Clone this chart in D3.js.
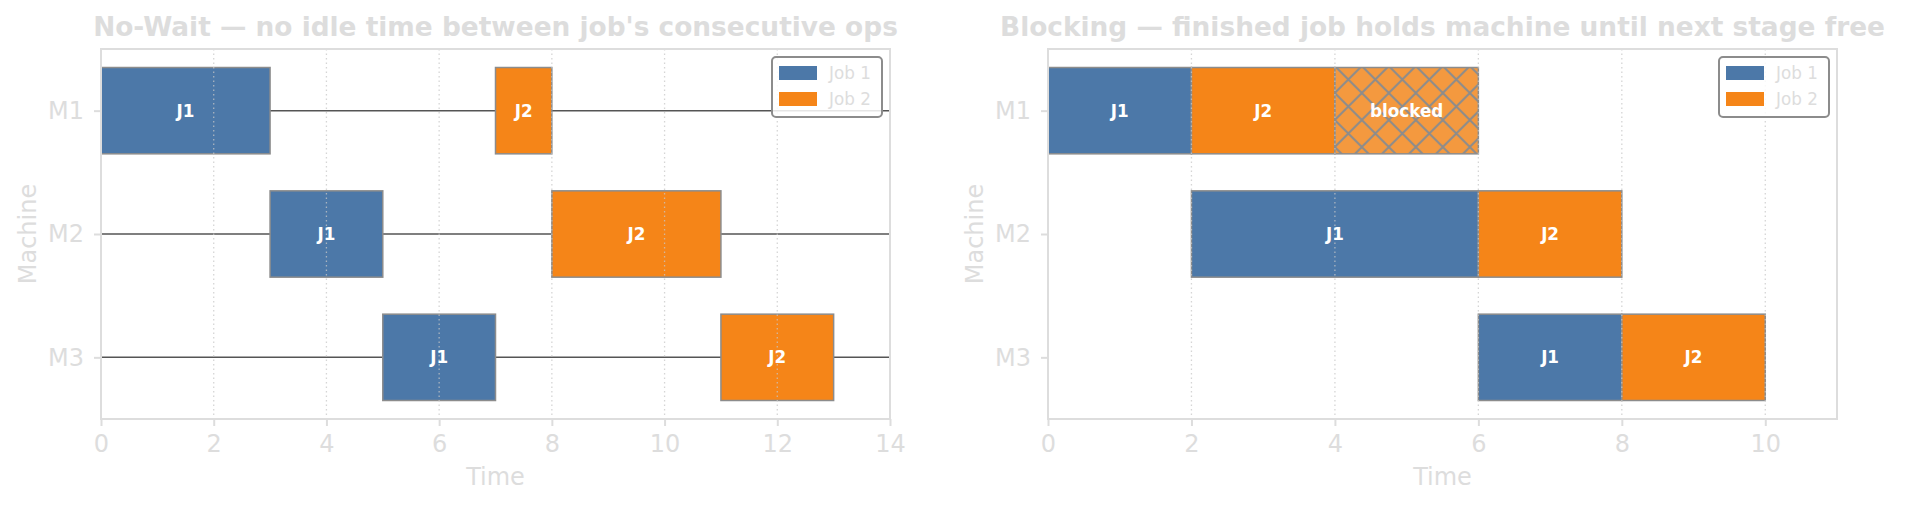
<!DOCTYPE html>
<html>
<head>
<meta charset="utf-8">
<script src="https://cdn.jsdelivr.net/npm/d3@7"></script>
<style>
  html, body { margin: 0; padding: 0; background: #fff; }
  svg { display: block; font-family: "DejaVu Sans", sans-serif; }
</style>
</head>
<body>
<div id="content"></div>
<script>
// data
const machines = ["M1", "M2", "M3"];
const jobNames = ["Job 1", "Job 2"];
const jobLabels = ["J1", "J2"];

// [job index, machine index, start, end]
const noWaitOps = [
  [0, 0, 0, 3], [0, 1, 3, 5], [0, 2, 5, 7],
  [1, 0, 7, 8], [1, 1, 8, 11], [1, 2, 11, 13]
];
const blockingOps = [
  [0, 0, 0, 2], [0, 1, 2, 6], [0, 2, 6, 8],
  [1, 0, 2, 4], [1, 1, 6, 8], [1, 2, 8, 10]
];
// [job index, machine index, start, end]
const blockedSpans = [[1, 0, 4, 6]];

const noWaitTicks = [0, 2, 4, 6, 8, 10, 12, 14];
const blockingTicks = [0, 2, 4, 6, 8, 10];

const W = 1905, H = 507;
const colors = ["#4c78a8", "#f58518"];
const light = "#dddddd";

const svg = d3.select("#content").append("svg")
  .attr("width", W).attr("height", H);

const defs = svg.append("defs");
const pat = defs.append("pattern")
  .attr("id", "xhatch")
  .attr("patternUnits", "userSpaceOnUse")
  .attr("width", 27).attr("height", 27)
  .attr("x", 1048 + 4 * 71.7).attr("y", 66);
pat.append("rect").attr("width", 27).attr("height", 27).attr("fill", "#f4993f");
pat.append("path")
  .attr("d", "M0,0L27,27M27,0L0,27M-1,26L1,28M26,-1L28,1")
  .attr("stroke", "#8c8c8c").attr("stroke-width", 2).attr("fill", "none");

function drawPanel(opts) {
  const {left, right, xmax, ticks, title, ops, blocked, hlines} = opts;
  const top = 49, bottom = 419;

  const x = d3.scaleLinear().domain([0, xmax]).range([left, right]);
  const y = d3.scaleLinear().domain([-0.5, 2.5]).range([top, bottom]);
  const barH = y(0.35) - y(0);

  const g = svg.append("g");

  // title
  g.append("text")
    .attr("x", (left + right) / 2).attr("y", 36)
    .attr("text-anchor", "middle")
    .attr("font-size", 26.4).attr("font-weight", "bold")
    .attr("fill", light)
    .text(title);

  // machine lines (no-wait only)
  if (hlines) {
    g.selectAll(".hl").data(machines).join("line")
      .attr("x1", left).attr("x2", right)
      .attr("y1", (d, i) => y(i)).attr("y2", (d, i) => y(i))
      .attr("stroke", "#555").attr("stroke-width", 1.5);
  }

  // bars
  g.selectAll(".bar").data(ops).join("rect")
    .attr("x", d => x(d[2]))
    .attr("y", d => y(d[1]) - barH)
    .attr("width", d => x(d[3]) - x(d[2]))
    .attr("height", 2 * barH)
    .attr("fill", d => colors[d[0]])
    .attr("stroke", "#8c8c8c").attr("stroke-width", 1.5);

  g.selectAll(".blk").data(blocked).join("rect")
    .attr("x", d => x(d[2]))
    .attr("y", d => y(d[1]) - barH)
    .attr("width", d => x(d[3]) - x(d[2]))
    .attr("height", 2 * barH)
    .attr("fill", "url(#xhatch)")
    .attr("stroke", "#8c8c8c").attr("stroke-width", 1.5);

  // grid (dotted, over bars)
  g.selectAll(".grid").data(ticks.filter(t => t > 0 && t < xmax)).join("line")
    .attr("x1", d => x(d)).attr("x2", d => x(d))
    .attr("y1", top).attr("y2", bottom)
    .attr("stroke", "#c8c8c8").attr("stroke-width", 1.3)
    .attr("stroke-dasharray", "1.5,3").attr("opacity", 0.75);

  // bar labels
  g.selectAll(".lbl").data(ops).join("text")
    .attr("x", d => x((d[2] + d[3]) / 2))
    .attr("y", d => y(d[1]) + 6)
    .attr("text-anchor", "middle")
    .attr("font-size", 16.8).attr("font-weight", "bold")
    .attr("fill", "#fff")
    .text(d => jobLabels[d[0]]);

  g.selectAll(".blbl").data(blocked).join("text")
    .attr("x", d => x((d[2] + d[3]) / 2))
    .attr("y", d => y(d[1]) + 6)
    .attr("text-anchor", "middle")
    .attr("font-size", 16.8).attr("font-weight", "bold")
    .attr("fill", "#fff")
    .text("blocked");

  // frame
  g.append("rect")
    .attr("x", left).attr("y", top)
    .attr("width", right - left).attr("height", bottom - top)
    .attr("fill", "none").attr("stroke", light).attr("stroke-width", 2);

  // x axis
  const xAxis = g.append("g")
    .attr("transform", `translate(0,${bottom})`)
    .call(d3.axisBottom(x).tickValues(ticks).tickSize(7).tickPadding(9).tickFormat(d3.format("d")));
  xAxis.select(".domain").remove();
  xAxis.selectAll("line").attr("stroke", light).attr("stroke-width", 2);
  xAxis.selectAll("text").attr("fill", light).attr("font-size", 24)
    .attr("font-family", "DejaVu Sans");

  // y axis
  const yAxis = g.append("g")
    .attr("transform", `translate(${left},0)`)
    .call(d3.axisLeft(y).tickValues([0, 1, 2]).tickSize(7).tickPadding(10)
      .tickFormat(i => machines[i]));
  yAxis.select(".domain").remove();
  yAxis.selectAll("line").attr("stroke", light).attr("stroke-width", 2);
  yAxis.selectAll("text").attr("fill", light).attr("font-size", 24)
    .attr("font-family", "DejaVu Sans");

  // axis labels
  g.append("text")
    .attr("x", (left + right) / 2).attr("y", 485)
    .attr("text-anchor", "middle")
    .attr("font-size", 24).attr("fill", light)
    .text("Time");
  g.append("text")
    .attr("transform", `translate(${left - 65},${(top + bottom) / 2}) rotate(-90)`)
    .attr("text-anchor", "middle")
    .attr("font-size", 24).attr("fill", light)
    .text("Machine");

  // legend
  const lw = 110, lh = 60;
  const lx = right - 8 - lw, ly = 57;
  const lg = g.append("g").attr("transform", `translate(${lx},${ly})`);
  lg.append("rect")
    .attr("width", lw).attr("height", lh).attr("rx", 4)
    .attr("fill", "#fff").attr("fill-opacity", 0.85)
    .attr("stroke", "#8c8c8c").attr("stroke-width", 2);
  const rows = lg.selectAll(".row").data(jobNames).join("g")
    .attr("transform", (d, i) => `translate(7,${16 + i * 26})`);
  rows.append("rect")
    .attr("x", 0).attr("y", -7).attr("width", 38).attr("height", 14)
    .attr("fill", (d, i) => colors[i]);
  rows.append("text")
    .attr("x", 50).attr("y", 6)
    .attr("font-size", 16.8).attr("fill", light)
    .text(d => d);
}

drawPanel({
  left: 101, right: 890, xmax: 14, ticks: noWaitTicks,
  title: "No-Wait \u2014 no idle time between job's consecutive ops",
  ops: noWaitOps, blocked: [], hlines: true
});
drawPanel({
  left: 1048, right: 1837, xmax: 11, ticks: blockingTicks,
  title: "Blocking \u2014 finished job holds machine until next stage free",
  ops: blockingOps, blocked: blockedSpans, hlines: false
});
</script>
</body>
</html>
